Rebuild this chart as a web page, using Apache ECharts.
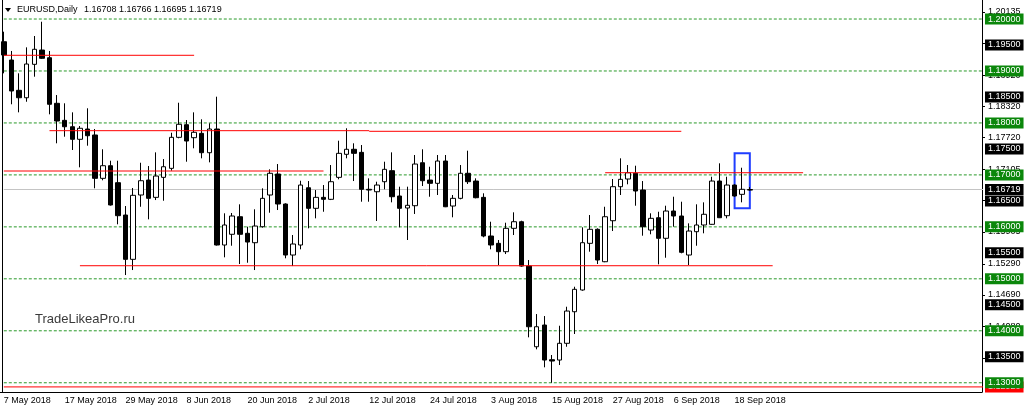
<!DOCTYPE html>
<html>
<head>
<meta charset="utf-8">
<script src="https://cdn.jsdelivr.net/npm/echarts@6/dist/echarts.min.js"></script>
<style>
html, body { margin: 0; padding: 0; background: #fff; }
#chart { width: 1024px; height: 412px; }
</style>
</head>
<body>
<div id="chart"></div>
<script>
// EURUSD, Daily  (7 May 2018 .. 20 Sep 2018, one bar per weekday)
var opens = [
  1.19563, 1.19211, 1.18628, 1.18485, 1.19128, 1.19403, 1.19255, 1.18378, 1.18050, 1.17927,
  1.17685, 1.17883, 1.17768, 1.16934, 1.17177, 1.16850, 1.16228, 1.15375, 1.16613, 1.16901,
  1.16568, 1.16953, 1.17126, 1.17723, 1.17966, 1.17716, 1.17800, 1.17427, 1.17883, 1.15651,
  1.15857, 1.16195, 1.15876, 1.15695, 1.16003, 1.16613, 1.17017, 1.16440, 1.15458, 1.15651,
  1.16753, 1.16357, 1.16568, 1.16530, 1.16953, 1.17396, 1.17493, 1.17434, 1.16723, 1.16676,
  1.16869, 1.17081, 1.16594, 1.16363, 1.16407, 1.17234, 1.16901, 1.16838, 1.17267, 1.16401,
  1.16549, 1.17031, 1.16882, 1.16568, 1.15824, 1.15683, 1.15522, 1.15972, 1.16099, 1.15246,
  1.13693, 1.14111, 1.13443, 1.13437, 1.13759, 1.14367, 1.14785, 1.15683, 1.15953, 1.15329,
  1.16118, 1.16773, 1.16921, 1.17031, 1.16709, 1.15939, 1.16176, 1.15780, 1.16305, 1.16209,
  1.15458, 1.15907, 1.16036, 1.16049, 1.16882, 1.16215, 1.16805, 1.16626, 1.16708
];
var highs = [
  1.19756, 1.19385, 1.18955, 1.19455, 1.19673, 1.19948, 1.19385, 1.18537, 1.18378, 1.18204,
  1.17941, 1.18282, 1.17883, 1.17493, 1.17273, 1.17273, 1.16401, 1.16748, 1.17234, 1.17171,
  1.17434, 1.17305, 1.17812, 1.18389, 1.18056, 1.18204, 1.18070, 1.17993, 1.18505, 1.16261,
  1.16267, 1.16434, 1.16003, 1.16338, 1.16742, 1.17107, 1.17209, 1.16453, 1.15843, 1.16888,
  1.16882, 1.16709, 1.16805, 1.17190, 1.17658, 1.17897, 1.17608, 1.17575, 1.16934, 1.16869,
  1.17254, 1.17434, 1.16773, 1.16773, 1.17383, 1.17493, 1.17157, 1.17383, 1.17383, 1.16613,
  1.17190, 1.17466, 1.16934, 1.16646, 1.16099, 1.15747, 1.16080, 1.16280, 1.16118, 1.15362,
  1.14322, 1.14284, 1.13534, 1.14097, 1.14463, 1.14848, 1.15991, 1.16228, 1.15972, 1.16387,
  1.16921, 1.17319, 1.17190, 1.17177, 1.16882, 1.16261, 1.16291, 1.16407, 1.16580, 1.16484,
  1.16068, 1.16434, 1.16472, 1.16965, 1.17223, 1.16965, 1.16819, 1.17138, 1.16766
];
var lows = [
  1.18955, 1.18359, 1.18204, 1.18408, 1.18890, 1.19230, 1.18166, 1.17608, 1.17735, 1.17479,
  1.17146, 1.17562, 1.16742, 1.16896, 1.16410, 1.16049, 1.15073, 1.15169, 1.16387, 1.16145,
  1.16516, 1.16503, 1.17081, 1.17704, 1.17254, 1.17512, 1.17319, 1.17242, 1.15640, 1.15414,
  1.15637, 1.15285, 1.15310, 1.15169, 1.15984, 1.16272, 1.16324, 1.15395, 1.15246, 1.15568,
  1.15972, 1.16164, 1.16291, 1.16516, 1.16915, 1.17319, 1.16882, 1.16484, 1.16484, 1.16113,
  1.16723, 1.16472, 1.15991, 1.15747, 1.16248, 1.16786, 1.16580, 1.16613, 1.16380, 1.16184,
  1.16530, 1.16825, 1.16549, 1.15799, 1.15568, 1.15266, 1.15477, 1.15843, 1.15233, 1.13874,
  1.13643, 1.13297, 1.13000, 1.13341, 1.13693, 1.13938, 1.14771, 1.15522, 1.15285, 1.15320,
  1.15920, 1.16613, 1.16819, 1.16407, 1.15830, 1.15857, 1.15279, 1.15406, 1.16003, 1.15491,
  1.15266, 1.15637, 1.15876, 1.16040, 1.16170, 1.16164, 1.16580, 1.16472, 1.16695
];
var closes = [
  1.19307, 1.18615, 1.18485, 1.19134, 1.19417, 1.19244, 1.18359, 1.18037, 1.17927, 1.17685,
  1.17897, 1.17754, 1.16934, 1.17177, 1.16421, 1.16215, 1.15375, 1.16607, 1.16888, 1.16549,
  1.16978, 1.17157, 1.17723, 1.17974, 1.17652, 1.17820, 1.17427, 1.17883, 1.15651, 1.16036,
  1.16209, 1.15857, 1.15708, 1.16016, 1.16549, 1.17031, 1.16440, 1.15458, 1.15670, 1.16805,
  1.16357, 1.16568, 1.16530, 1.16869, 1.17415, 1.17493, 1.17415, 1.16723, 1.16709, 1.16805,
  1.17107, 1.16580, 1.16357, 1.16415, 1.17209, 1.16888, 1.16838, 1.17267, 1.16387, 1.16549,
  1.17031, 1.16869, 1.16561, 1.15824, 1.15651, 1.15522, 1.15972, 1.16099, 1.15246, 1.14078,
  1.14078, 1.13437, 1.13418, 1.13759, 1.14380, 1.14798, 1.15695, 1.15953, 1.15362, 1.16195,
  1.16773, 1.16915, 1.17042, 1.16690, 1.16003, 1.16164, 1.15780, 1.16305, 1.16209, 1.15510,
  1.15920, 1.16036, 1.16242, 1.16882, 1.16176, 1.16805, 1.16594, 1.16723, 1.16719
];

// price scale
var priceMin = 1.12822;
var priceMax = 1.20366;
var scaleTicks = [1.20135, 1.19530, 1.18920, 1.18320, 1.17720, 1.17105, 1.16505, 1.15905, 1.15290, 1.14690, 1.14080, 1.13480];
var roundLevels = [1.20, 1.19, 1.18, 1.17, 1.16, 1.15, 1.14, 1.13];
var halfLevels = [1.195, 1.185, 1.175, 1.165, 1.155, 1.145, 1.135];
var lowLevel = [1.12920];

// horizontal lines drawn on the chart (bar index from/to, price)
var lineFrom = [0, 5.85, 47.7, 0, 79.0, 9.9];
var lineTo = [24.9, 47.7, 88.8, 41.9, 104.9, 101.0];
var linePrice = [1.19302, 1.17851, 1.17839, 1.17075, 1.17042, 1.15252];

// highlighted box
var boxBars = [96, 98];
var boxPrices = [1.17416, 1.16357];

var emptySlots = 30;

var months = ['Jan', 'Feb', 'Mar', 'Apr', 'May', 'Jun', 'Jul', 'Aug', 'Sep', 'Oct', 'Nov', 'Dec'];
var dates = [];
var d = new Date(Date.UTC(2018, 4, 7));
while (dates.length < opens.length) {
  var wd = d.getUTCDay();
  if (wd !== 0 && wd !== 6) {
    dates.push(d.getUTCDate() + ' ' + months[d.getUTCMonth()] + ' ' + d.getUTCFullYear());
  }
  d.setUTCDate(d.getUTCDate() + 1);
}
var categories = dates.concat(new Array(emptySlots).fill(''));

var candles = opens.map(function (o, i) { return [o, closes[i], lows[i], highs[i]]; });
var last = opens.length - 1;
var bid = [closes[last]];

var FONT = '"Liberation Sans", Arial, sans-serif';
var leftEdge = -0.5;
var rightEdge = categories.length - 0.5;

// price boxes on the right scale (markLine labels only, line itself transparent)
function levelLabels(values, labelBg) {
  return {
    type: 'line',
    data: [],
    silent: true,
    symbol: 'none',
    z: 6,
    markLine: {
      silent: true,
      precision: 5,
      symbol: ['none', 'none'],
      animation: false,
      lineStyle: { color: 'rgba(0,0,0,0)', width: 1 },
      label: {
        show: true,
        position: 'end',
        distance: 3,
        color: '#fff',
        backgroundColor: labelBg,
        fontSize: 9,
        fontFamily: FONT,
        lineHeight: 10,
        padding: [1, 3, 0, 3],
        formatter: function (p) { return Number(p.value).toFixed(5); }
      },
      emphasis: { disabled: true },
      data: values.map(function (v) { return { yAxis: v }; })
    }
  };
}

// a horizontal line drawn through the axes
function hLine(from, to, price, style, z) {
  return {
    type: 'line',
    silent: true,
    symbol: 'none',
    z: z,
    lineStyle: style,
    data: [[from, price], [to, price]]
  };
}

var series = [];
lowLevel.forEach(function (v) {
  series.push(hLine(leftEdge, rightEdge, v, { color: '#ff0000', width: 1 }, 1));
});
roundLevels.forEach(function (v) {
  series.push(hLine(leftEdge, rightEdge, v, { color: '#2a9a2a', width: 1, type: [3, 2] }, 1));
});
series.push(hLine(leftEdge, rightEdge, bid[0], { color: '#c4c4c4', width: 1 }, 1));
series.push(levelLabels(lowLevel, '#ff0000'));
series.push(levelLabels(roundLevels, '#0b870b'));
series.push(levelLabels(halfLevels, '#000'));
series.push(levelLabels(bid, '#000'));
series.push({
  type: 'candlestick',
  data: candles,
  barWidth: 5,
  z: 3,
  itemStyle: {
    color: '#fff',
    color0: '#000',
    borderColor: '#000',
    borderColor0: '#000',
    borderWidth: 1
  },
  markArea: {
    silent: true,
    itemStyle: { color: 'rgba(0,0,0,0)', borderColor: '#1f3dff', borderWidth: 2 },
    data: [[{ coord: [boxBars[0], boxPrices[0]] }, { coord: [boxBars[1], boxPrices[1]] }]]
  }
});
linePrice.forEach(function (p, i) {
  series.push(hLine(lineFrom[i], lineTo[i], p, { color: '#ff0000', width: 1 }, 4));
});

var chart = echarts.init(document.getElementById('chart'));
chart.setOption({
  animation: false,
  backgroundColor: '#fff',
  grid: { left: 0, right: 42, top: 0, bottom: 20 },
  xAxis: {
    type: 'category',
    data: categories,
    boundaryGap: true,
    axisLine: { lineStyle: { color: '#000', width: 1 } },
    axisTick: {
      alignWithLabel: true,
      length: 3,
      lineStyle: { color: '#000' },
      interval: function (i, v) { return i % 8 === 0 && v !== ''; }
    },
    axisLabel: {
      align: 'left',
      margin: 4,
      fontSize: 9,
      fontFamily: FONT,
      color: '#000',
      interval: function (i, v) { return i % 8 === 0 && v !== ''; }
    },
    splitLine: { show: false }
  },
  yAxis: {
    type: 'value',
    position: 'right',
    min: priceMin,
    max: priceMax,
    scale: true,
    axisLine: { show: true, lineStyle: { color: '#000', width: 1 } },
    axisTick: { show: true, length: 3, customValues: scaleTicks, lineStyle: { color: '#000' } },
    axisLabel: {
      customValues: scaleTicks,
      margin: 6,
      fontSize: 9,
      fontFamily: FONT,
      color: '#000',
      formatter: function (v) { return v.toFixed(5); }
    },
    splitLine: { show: false }
  },
  series: series,
  graphic: [
    { type: 'line', silent: true, shape: { x1: 2.5, y1: 0, x2: 2.5, y2: 392 }, style: { stroke: '#000', lineWidth: 1 } },
    { type: 'polygon', silent: true, shape: { points: [[5, 8], [11, 8], [8, 12]] }, style: { fill: '#000' } },
    { type: 'text', silent: true, left: 17, top: 5, style: { text: 'EURUSD,Daily', font: '9px ' + FONT, fill: '#000' } },
    { type: 'text', silent: true, left: 84, top: 5, style: {
      text: [opens[last], highs[last], lows[last], closes[last]].map(function (v) { return v.toFixed(5); }).join(' '),
      font: '9px ' + FONT, fill: '#000' } },
    { type: 'text', silent: true, left: 35, top: 313, style: { text: 'TradeLikeaPro.ru', font: '13px ' + FONT, fill: '#3a3a3a' } }
  ]
});
</script>
</body>
</html>
